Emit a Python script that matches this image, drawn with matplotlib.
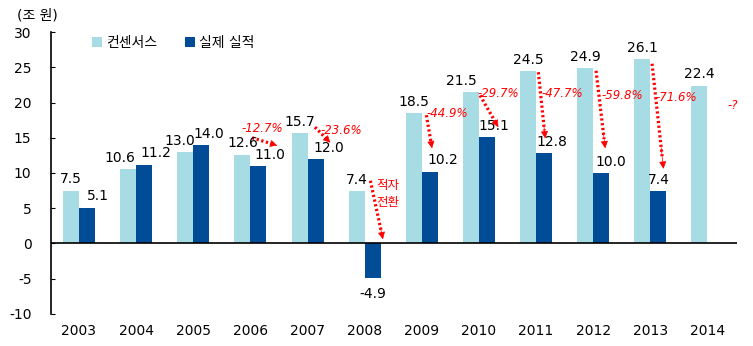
import numpy as np
import matplotlib.pyplot as plt

plt.rcParams['font.family'] = ['DejaVu Sans', 'Noto Sans CJK KR']
plt.rcParams['axes.unicode_minus'] = False

# 연간 영업이익: 컨센서스 vs 실제 실적 (조 원)
years = ['2003', '2004', '2005', '2006', '2007', '2008',
         '2009', '2010', '2011', '2012', '2013', '2014']
consensus = [7.5, 10.6, 13.0, 12.6, 15.7, 7.4, 18.5, 21.5, 24.5, 24.9, 26.1, 22.4]
actual = [5.1, 11.2, 14.0, 11.0, 12.0, -4.9, 10.2, 15.1, 12.8, 10.0, 7.4, np.nan]

# 괴리율 표시 (연도 인덱스, 문구)
gap_idx = [3, 4, 5, 6, 7, 8, 9, 10, 11]
gap_text = ['-12.7%', '-23.6%', '적자\n전환', '-44.9%', '-29.7%',
            '-47.7%', '-59.8%', '-71.6%', '-?']

light = '#A8DCE4'
dark = '#004C97'
red = '#FF0000'

fig = plt.figure(figsize=(7.53, 3.46), dpi=100)
ax = fig.add_axes([0.0677, 0.0925, 0.9113, 0.815])

x = np.arange(len(years))
w = 0.28
ax.bar(x - w / 2, consensus, w, color=light, label='컨센서스')
ax.bar(x + w / 2, actual, w, color=dark, label='실제 실적')

ax.axhline(0, color='black', lw=1.2)
ax.set_xlim(-0.49, 11.52)
ax.set_ylim(-10, 30)
ax.set_yticks(range(-10, 31, 5))
ax.set_xticks(x)
ax.set_xticklabels(years)
ax.tick_params(axis='y', direction='in', length=3, pad=14, labelsize=10)
ax.tick_params(axis='x', length=0, pad=7, labelsize=10)
for s in ['top', 'right', 'bottom']:
    ax.spines[s].set_visible(False)
ax.spines['left'].set_linewidth(1.2)

# 값 레이블 (겹치는 곳은 옆으로 살짝 이동)
c_shift = [0, -0.14, -0.09, 0, 0, 0, 0, -0.16, 0, 0, 0, 0]
a_shift = [0.2, 0.2, 0.14, 0.2, 0.23, 0, 0.23, 0.12, 0.14, 0.17, 0, 0]
for i in range(len(years)):
    ax.text(x[i] - w / 2 + c_shift[i], consensus[i] + 0.6, f'{consensus[i]:.1f}',
            ha='center', va='bottom', fontsize=10)
    v = actual[i]
    if np.isnan(v):
        continue
    if v >= 0:
        ax.text(x[i] + w / 2 + a_shift[i], v + 0.6, f'{v:.1f}',
                ha='center', va='bottom', fontsize=10)
    else:
        ax.text(x[i] + w / 2 + a_shift[i], v - 1.2, f'{v:.1f}',
                ha='center', va='top', fontsize=10)

# 괴리율 화살표: 시작점, 끝점, 문구 위치
arrow_from = [(3.03, 15.0), (4.13, 16.5), (5.10, 8.9), (6.08, 18.2),
              (7.02, 21.0), (8.04, 24.3), (9.05, 24.5), (10.03, 25.5), None]
arrow_to = [(3.47, 13.9), (4.40, 14.3), (5.32, 0.6), (6.18, 13.5),
            (7.34, 16.5), (8.16, 14.9), (9.21, 13.5), (10.23, 10.6), None]
text_pos = [(3.2, 16.3), (4.59, 16.0), (5.40, 7.0), (6.45, 18.4),
            (7.34, 21.3), (8.46, 21.3), (9.51, 21.0), (10.46, 20.7), (11.44, 19.6)]

for k, i in enumerate(gap_idx):
    tx, ty = text_pos[k]
    if '전환' in gap_text[k]:
        ax.text(tx, ty, gap_text[k], color=red, fontsize=9, ha='center',
                va='center', linespacing=1.4, family='Noto Sans CJK KR')
    else:
        ax.text(tx, ty, gap_text[k], color=red, fontsize=8.5, ha='center',
                va='center', style='italic')
    if arrow_from[k] is None:
        continue
    (x0, y0), (x1, y1) = arrow_from[k], arrow_to[k]
    # 점선 몸통
    ax.plot([x0, x1 - 0.12 * (x1 - x0)], [y0, y1 - 0.12 * (y1 - y0)],
            color=red, lw=2.3, linestyle=(0, (0.7, 0.8)),
            solid_capstyle='butt', dash_capstyle='butt')
    # 화살촉
    hx = x1 - 0.2 * (x1 - x0)
    hy = y1 - 0.2 * (y1 - y0)
    ax.annotate('', xy=(x1, y1), xytext=(hx, hy),
                arrowprops=dict(arrowstyle='-|>', color=red, lw=0.5,
                                mutation_scale=11, shrinkA=0, shrinkB=0))

leg = ax.legend(loc='upper left', bbox_to_anchor=(0.042, 1.03), ncol=2,
                frameon=False, fontsize=10, handlelength=0.7, handleheight=0.7,
                handletextpad=0.3, columnspacing=2.0)

fig.text(0.023, 0.955, '(조 원)', fontsize=10, va='center')

fig.savefig('out.png', dpi=100)
